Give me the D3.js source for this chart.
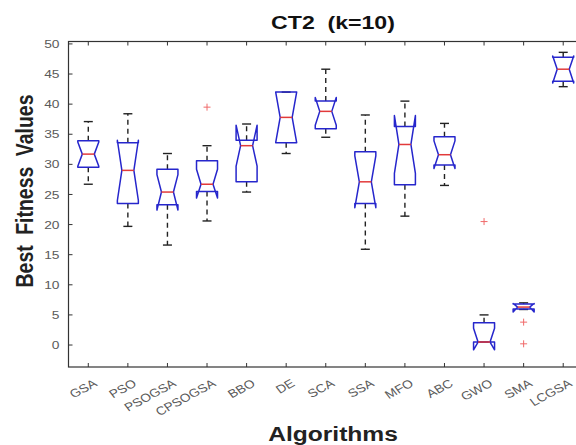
<!DOCTYPE html>
<html>
<head>
<meta charset="utf-8">
<script src="https://cdn.jsdelivr.net/npm/d3@7"></script>
<style>
  body { margin: 0; background: #fff; }
  svg { display: block; font-family: "Liberation Sans", Arial, sans-serif; }
</style>
</head>
<body>
<svg width="576" height="445"></svg>
<script>
// values
const algorithms = ["GSA", "PSO", "PSOGSA", "CPSOGSA", "BBO", "DE", "SCA", "SSA", "MFO", "ABC", "GWO", "SMA", "LCGSA"];
const lowerWhisker = [26.7, 19.7, 16.6, 20.6, 25.4, 31.8, 34.5, 15.9, 21.4, 26.5, 0.5, 5.9, 42.9];
const q1 = [29.5, 23.5, 23.3, 25.5, 27.1, 33.6, 35.9, 23.5, 26.6, 29.9, 0.5, 6.0, 43.8];
const medians = [31.7, 29.0, 25.4, 26.7, 33.1, 37.8, 38.8, 27.1, 33.3, 31.6, 0.5, 6.3, 45.8];
const q3 = [33.9, 33.6, 29.2, 30.6, 34.0, 42.0, 40.5, 32.1, 36.3, 34.6, 3.7, 6.8, 47.8];
const upperWhisker = [37.1, 38.4, 31.8, 33.1, 36.7, 42.0, 45.8, 38.2, 40.5, 36.8, 5.0, 7.0, 48.6];
const notchLo = [29.7, 24.0, 22.4, 24.4, 29.7, 33.6, 36.5, 22.8, 28.5, 29.3, -0.8, 5.5, 43.5];
const notchHi = [33.7, 34.0, 28.3, 29.2, 36.5, 42.0, 41.1, 31.4, 38.1, 33.9, 2.8, 6.9, 48.0];
const outlierAlg = ["CPSOGSA", "GWO", "SMA", "SMA"];
const outlierVal = [39.5, 20.5, 3.8, 0.2];
const yTicks = [0, 5, 10, 15, 20, 25, 30, 35, 40, 45, 50];

const svg = d3.select("svg");

const plotLeft = 68.5, plotRight = 583, plotTop = 41.5, plotBottom = 367;
// the source picture is a bit stretched sideways, so text gets widened too
const stretch = 1.2;

const x = d3.scaleLinear().domain([0.5, algorithms.length + 0.5]).range([plotLeft, plotRight]);
const y = d3.scaleLinear().domain([-3.65, 50.4]).range([plotBottom, plotTop]);

const boxHalf = 10.5;
const notchHalf = 6;
const capHalf = 4.5;
const blue = "#2626cc";

// frame
svg.append("rect")
    .attr("x", plotLeft).attr("y", plotTop)
    .attr("width", plotRight - plotLeft).attr("height", plotBottom - plotTop)
    .attr("fill", "none")
    .attr("stroke", "#333")
    .attr("stroke-width", 1.2);

// y ticks
const yAxis = svg.append("g");
yAxis.selectAll("line")
    .data(yTicks)
    .enter()
    .append("line")
    .attr("x1", plotLeft).attr("x2", plotLeft + 4)
    .attr("y1", d => y(d)).attr("y2", d => y(d))
    .attr("stroke", "#333");
yAxis.selectAll("text")
    .data(yTicks)
    .enter()
    .append("text")
    .attr("transform", d => `translate(${plotLeft - 9}, ${y(d)}) scale(${stretch}, 1)`)
    .attr("dy", "0.36em")
    .attr("text-anchor", "end")
    .attr("font-size", "11.5px")
    .attr("fill", "#5a5a5a")
    .text(d => d);

// x ticks (bottom and top)
const xAxis = svg.append("g");
algorithms.forEach((name, i) => {
    const px = x(i + 1);
    xAxis.append("line")
        .attr("x1", px).attr("x2", px)
        .attr("y1", plotBottom).attr("y2", plotBottom - 4)
        .attr("stroke", "#333");
    xAxis.append("line")
        .attr("x1", px).attr("x2", px)
        .attr("y1", plotTop).attr("y2", plotTop + 4)
        .attr("stroke", "#333");
    xAxis.append("text")
        .attr("transform", `translate(${px + 7}, ${plotBottom + 15}) scale(${stretch}, 1) rotate(-33)`)
        .attr("dy", "0.35em")
        .attr("text-anchor", "end")
        .attr("font-size", "11.5px")
        .attr("fill", "#5a5a5a")
        .text(name);
});

// boxes
const boxes = svg.append("g");
algorithms.forEach((name, i) => {
    const cx = x(i + 1);
    const g = boxes.append("g");

    // whiskers
    g.append("line")
        .attr("x1", cx).attr("x2", cx)
        .attr("y1", y(q3[i])).attr("y2", y(upperWhisker[i]))
        .attr("stroke", "#222").attr("stroke-width", 1.4)
        .attr("stroke-dasharray", "5,4");
    g.append("line")
        .attr("x1", cx).attr("x2", cx)
        .attr("y1", y(q1[i])).attr("y2", y(lowerWhisker[i]))
        .attr("stroke", "#222").attr("stroke-width", 1.4)
        .attr("stroke-dasharray", "5,4");
    [upperWhisker[i], lowerWhisker[i]].forEach(v => {
        g.append("line")
            .attr("x1", cx - capHalf).attr("x2", cx + capHalf)
            .attr("y1", y(v)).attr("y2", y(v))
            .attr("stroke", "#222").attr("stroke-width", 1.4);
    });

    // notched box outline
    const pts = [
        [cx - boxHalf, y(q3[i])],
        [cx - boxHalf, y(notchHi[i])],
        [cx - notchHalf, y(medians[i])],
        [cx - boxHalf, y(notchLo[i])],
        [cx - boxHalf, y(q1[i])],
        [cx + boxHalf, y(q1[i])],
        [cx + boxHalf, y(notchLo[i])],
        [cx + notchHalf, y(medians[i])],
        [cx + boxHalf, y(notchHi[i])],
        [cx + boxHalf, y(q3[i])]
    ];
    g.append("path")
        .attr("d", d3.line()(pts) + "Z")
        .attr("fill", "none")
        .attr("stroke", blue)
        .attr("stroke-width", 1.5)
        .attr("stroke-linejoin", "round");

    // median
    g.append("line")
        .attr("x1", cx - notchHalf).attr("x2", cx + notchHalf)
        .attr("y1", y(medians[i])).attr("y2", y(medians[i]))
        .attr("stroke", "#e23a3a").attr("stroke-width", 1.5);
});

// outliers
const outliers = svg.append("g");
outlierVal.forEach((v, k) => {
    const cx = x(algorithms.indexOf(outlierAlg[k]) + 1);
    const cy = y(v);
    outliers.append("path")
        .attr("d", `M${cx - 3.5},${cy}H${cx + 3.5}M${cx},${cy - 3.5}V${cy + 3.5}`)
        .attr("stroke", "#f06a6a")
        .attr("stroke-width", 1);
});

// title and labels
svg.append("text")
    .attr("transform", `translate(333, 29) scale(1.25, 1)`)
    .attr("text-anchor", "middle")
    .attr("font-size", "18.5px")
    .attr("font-weight", "bold")
    .attr("fill", "#111")
    .attr("word-spacing", "5px")
    .text("CT2 (k=10)");

svg.append("text")
    .attr("transform", `translate(333, 441) scale(${stretch}, 1)`)
    .attr("text-anchor", "middle")
    .attr("font-size", "20.5px")
    .attr("font-weight", "bold")
    .attr("fill", "#222")
    .text("Algorithms");

svg.append("text")
    .attr("transform", `translate(33, 191) scale(${stretch}, 1) rotate(-90)`)
    .attr("text-anchor", "middle")
    .attr("font-size", "19.5px")
    .attr("font-weight", "bold")
    .attr("fill", "#222")
    .attr("word-spacing", "5px")
    .text("Best Fitness Values");
</script>
</body>
</html>
